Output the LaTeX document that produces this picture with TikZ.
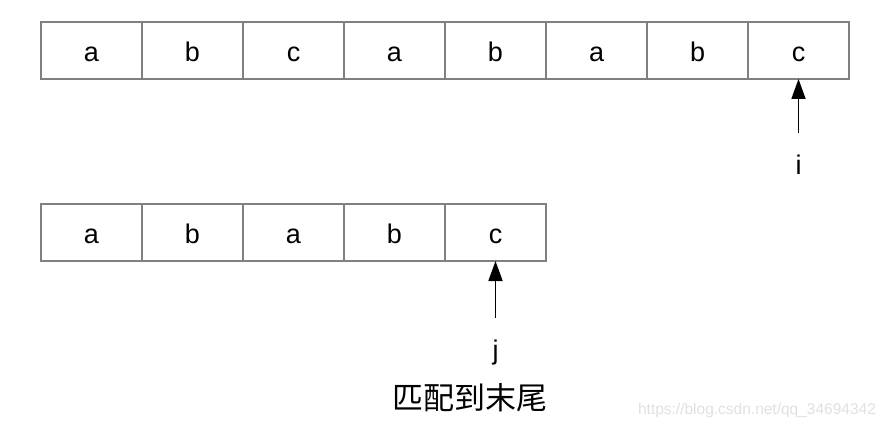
\documentclass[tikz,border=0pt]{standalone}
\usepackage{fontspec}
\setmainfont{Liberation Sans}
\newfontfamily\cjk{Noto Sans CJK SC}
\usetikzlibrary{positioning,arrows.meta}

\tikzset{
	cell/.style={draw=black!50, line width=1.5pt, minimum width=101pt, minimum height=57pt,
		inner sep=0pt, outer sep=0pt, text height=23pt, text depth=0pt,
		font=\fontsize{27}{27}\selectfont},
	ptr/.style={-{Triangle[width=14pt,length=20pt]}, line width=1.8pt},
	lbl/.style={font=\fontsize{27}{27}\selectfont},
}

\begin{document}
\begin{tikzpicture}[x=1pt,y=1pt]
	\useasboundingbox (0,0) rectangle (888,434);

	% text
	\node[cell] (t1) at (91.5,383.5) {a};
	\node[cell, right=0pt of t1] (t2) {b};
	\node[cell, right=0pt of t2] (t3) {c};
	\node[cell, right=0pt of t3] (t4) {a};
	\node[cell, right=0pt of t4] (t5) {b};
	\node[cell, right=0pt of t5] (t6) {a};
	\node[cell, right=0pt of t6] (t7) {b};
	\node[cell, right=0pt of t7] (t8) {c};

	% pattern
	\node[cell] (p1) at (91.5,201.5) {a};
	\node[cell, right=0pt of p1] (p2) {b};
	\node[cell, right=0pt of p2] (p3) {a};
	\node[cell, right=0pt of p3] (p4) {b};
	\node[cell, right=0pt of p4] (p5) {c};

	\coordinate (itail) at ([yshift=-54pt]t8.south);
	\node[lbl] (i) at ([yshift=-86pt]t8.south) {i};
	\draw[ptr] (itail) -- (t8.south);

	\coordinate (jtail) at ([yshift=-57pt]p5.south);
	\node[lbl] (j) at ([yshift=-92pt]p5.south) {j};
	\node[font=\cjk\fontsize{31}{31}\selectfont] (note) at (470,36) {匹配到末尾};
	\draw[ptr] (jtail) -- (p5.south);

	\node[text=black!12, font=\fontsize{15.5}{15.5}\selectfont] (wm) at (757,24) {https://blog.csdn.net/qq\_34694342};

\end{tikzpicture}
\end{document}
